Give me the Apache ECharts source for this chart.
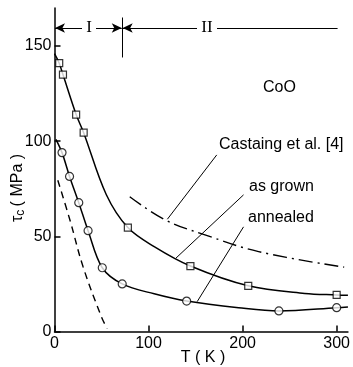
<!DOCTYPE html>
<html>
<head>
<meta charset="utf-8">
<script src="https://cdn.jsdelivr.net/npm/echarts@6/dist/echarts.min.js"></script>
<style>
  html, body { margin: 0; padding: 0; background: #fff; }
  #chart { width: 353px; height: 367px; }
</style>
</head>
<body>
<div id="chart"></div>
<script>
// curves: [T (K), tau_c (MPa)]
const grownCurve = [[0, 146], [5, 141], [9, 135], [23, 114], [31, 104.5], [55, 72], [78, 54.6], [106, 44.6], [144.5, 34.4], [206, 24], [266, 20], [300, 19.2], [312, 19]];
const grownPoints = [[5, 141], [9, 135], [23, 114], [31, 104.5], [78, 54.6], [144.5, 34.4], [206, 24], [300, 19.2]];
const annealedCurve = [[1.5, 101], [8, 94], [16, 81.5], [25.8, 67.7], [35.7, 53], [50.8, 33.5], [72, 25], [106, 19.8], [140.5, 16], [195.7, 12.5], [238.6, 10.8], [300, 12.5], [312, 12.9]];
const annealedPoints = [[8, 94], [16, 81.5], [25.8, 67.7], [35.7, 53], [50.8, 33.5], [72, 25], [140.5, 16], [238.6, 10.8], [300, 12.5]];
const castaing = [[80, 70.8], [118, 58.6], [160, 50.8], [217, 42], [308, 33.8]];
const dashed = [[3.5, 79.5], [16.4, 58.6], [30.4, 34], [49.8, 7.8], [56, 1.5]];

// leader lines from labels to curves
const leaderCastaing = [[172.5, 92.8], [120, 59]];
const leaderGrown = [[201, 71.8], [129, 38.5]];
const leaderAnnealed = [[201, 55], [151.7, 15.7]];

const xTicks = [0, 100, 200, 300];
const yTicks = [0, 50, 100, 150];
const regionBoundary = 72;
const regionLevel = 159.5;

const chart = echarts.init(document.getElementById('chart'), null, { renderer: 'canvas' });

const font = 'Liberation Sans, Arial, sans-serif';
const serif = '17px "Liberation Serif", "DejaVu Serif", serif';
const leader = (data) => ({
  type: 'line', data, symbol: 'none', silent: true,
  lineStyle: { color: '#000', width: 1 }
});

const option = {
  animation: false,
  backgroundColor: '#fff',
  grid: { left: 54.5, right: 2.5, top: 8, bottom: 35.5 },
  xAxis: {
    type: 'value', min: 0, max: 312, interval: 100,
    axisLine: { lineStyle: { color: '#000', width: 1.5 } },
    axisTick: { inside: true, length: 6, lineStyle: { color: '#000', width: 1.5 } },
    axisLabel: { color: '#000', fontSize: 16, fontFamily: font, margin: 4, showMaxLabel: false,
      formatter: v => xTicks.includes(v) ? String(v) : '' },
    splitLine: { show: false }
  },
  yAxis: {
    type: 'value', min: 0, max: 170, interval: 50,
    axisLine: { show: true, lineStyle: { color: '#000', width: 1.5 } },
    axisTick: { show: true, inside: true, length: 6, lineStyle: { color: '#000', width: 1.5 } },
    axisLabel: { color: '#000', fontSize: 16, fontFamily: font, margin: 3, showMaxLabel: false,
      formatter: v => yTicks.includes(v) ? String(v) : '' },
    splitLine: { show: false }
  },
  series: [
    {
      type: 'line', data: grownCurve, smooth: 0.35, symbol: 'none',
      lineStyle: { color: '#000', width: 1.5 }
    },
    {
      type: 'scatter', data: grownPoints, symbol: 'rect', symbolSize: 7,
      itemStyle: { color: '#fff', borderColor: '#000', borderWidth: 1.2 }, z: 5
    },
    {
      type: 'line', data: annealedCurve, smooth: 0.35, symbol: 'none',
      lineStyle: { color: '#000', width: 1.5 }
    },
    {
      type: 'scatter', data: annealedPoints, symbol: 'circle', symbolSize: 8,
      itemStyle: { color: '#fff', borderColor: '#000', borderWidth: 1.2 }, z: 5
    },
    {
      type: 'line', data: castaing, smooth: 0.4, symbol: 'none',
      lineStyle: { color: '#000', width: 1.4, type: [14, 5, 2, 5] }
    },
    {
      type: 'line', data: dashed, smooth: 0.4, symbol: 'none',
      lineStyle: { color: '#000', width: 1.4, type: [7, 5] }
    },
    leader(leaderCastaing),
    leader(leaderGrown),
    leader(leaderAnnealed),
    {
      // region markers I and II
      type: 'line', data: [], silent: true,
      markLine: {
        silent: true,
        lineStyle: { color: '#000', width: 1, type: 'solid' },
        label: { show: false },
        data: [
          [{ coord: [0.5, regionLevel], symbol: 'arrow', symbolSize: [7, 10] },
           { coord: [regionBoundary - 0.5, regionLevel], symbol: 'arrow', symbolSize: [7, 10] }],
          [{ coord: [regionBoundary + 0.5, regionLevel], symbol: 'arrow', symbolSize: [7, 10] },
           { coord: [301, regionLevel], symbol: 'none' }],
          [{ coord: [regionBoundary, 165], symbol: 'none' },
           { coord: [regionBoundary, 144], symbol: 'none' }]
        ]
      }
    }
  ],
  graphic: [
    { type: 'rect', shape: { x: 82, y: 20, width: 14, height: 16 }, style: { fill: '#fff' }, z: 100 },
    { type: 'text', x: 89, y: 28, z: 101,
      style: { text: 'I', font: serif, fill: '#000', align: 'center', verticalAlign: 'middle' } },
    { type: 'rect', shape: { x: 197, y: 20, width: 20, height: 16 }, style: { fill: '#fff' }, z: 100 },
    { type: 'text', x: 207, y: 28, z: 101,
      style: { text: 'II', font: serif, fill: '#000', align: 'center', verticalAlign: 'middle' } },
    { type: 'text', x: 263, y: 88,
      style: { text: 'CoO', font: '16px ' + font, fill: '#000', verticalAlign: 'middle' } },
    { type: 'text', x: 219, y: 145,
      style: { text: 'Castaing et al. [4]', font: '16px ' + font, fill: '#000', verticalAlign: 'middle' } },
    { type: 'text', x: 249, y: 187,
      style: { text: 'as grown', font: '16px ' + font, fill: '#000', verticalAlign: 'middle' } },
    { type: 'text', x: 248, y: 218,
      style: { text: 'annealed', font: '16px ' + font, fill: '#000', verticalAlign: 'middle' } },
    { type: 'text', x: 203, y: 358,
      style: { text: 'T ( K )', font: '16px ' + font, fill: '#000', align: 'center', verticalAlign: 'middle' } },
    { type: 'text', x: 18, y: 188, rotation: Math.PI / 2,
      style: {
        text: '{t|τ}{s|c} {t|( MPa )}', align: 'center', verticalAlign: 'middle',
        rich: {
          t: { fontSize: 16, fontFamily: font, fill: '#000' },
          s: { fontSize: 12, fontFamily: font, fill: '#000', verticalAlign: 'bottom', padding: [6, 0, 0, 0] }
        }
      } }
  ]
};

chart.setOption(option);
</script>
</body>
</html>
